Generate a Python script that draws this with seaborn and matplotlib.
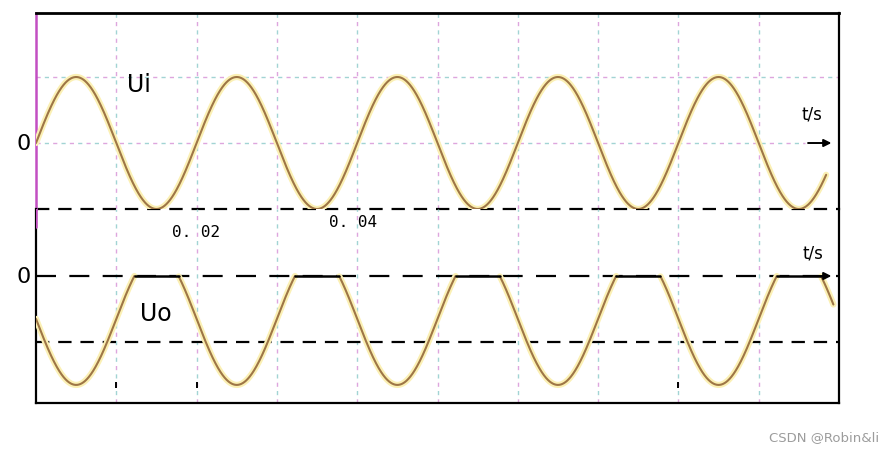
import numpy as np
import pandas as pd
import matplotlib
matplotlib.use('Agg')
import matplotlib.pyplot as plt
import matplotlib.patheffects as pe
import seaborn as sns

# waveform parameters (time in s, voltage in units of Ui amplitude)
FREQ_HZ = 50
UI_AMP = 1.0
UO_SHIFT = -0.65      # Uo = -Ui + shift, clipped at 0
UO_CLIP = 0.0
T_END_UI = 0.0984
T_END_UO = 0.0993
T_MAX = 0.1

GRID_T = [0.01, 0.02, 0.03, 0.04, 0.05, 0.06, 0.07, 0.08, 0.09]
TIME_LABELS = ['0. 02', '0. 04']
TIME_LABEL_T = [0.0199, 0.0395]
TIME_LABEL_Y = [0.68, 0.82]   # in Uo-panel units, just under the Ui baseline
BOTTOM_TICKS_T = [0.0, 0.01, 0.02, 0.08, 0.1]

WAVE = '#9e7646'
HALO = '#fbf0b4'
GRID_PINK = '#dea6de'
GRID_CYAN = '#a2d4d4'
MAGENTA = '#c24fc2'


def pastel_line(ax, horizontal, v, xmax=1.0):
    # reference grid is drawn with small two-tone dashes
    if horizontal:
        ax.axhline(v, xmax=xmax, color=GRID_PINK, lw=1.0, ls=(0, (3, 9)), zorder=1)
        ax.axhline(v, xmax=xmax, color=GRID_CYAN, lw=1.0, ls=(6, (3, 9)), zorder=1)
    else:
        ax.axvline(v, color=GRID_PINK, lw=1.0, ls=(0, (3, 9)), zorder=1)
        ax.axvline(v, color=GRID_CYAN, lw=1.0, ls=(6, (3, 9)), zorder=1)


def segments(df, col):
    return (df[col] != df[col].shift()).cumsum()


sns.set_style('white')
plt.rcParams['font.family'] = ['DejaVu Sans']
plt.rcParams['text.color'] = 'black'
plt.rcParams['axes.edgecolor'] = 'black'

t_ui = np.linspace(0, T_END_UI, 3000)
ui = UI_AMP * np.sin(2 * np.pi * FREQ_HZ * t_ui)
t_uo = np.linspace(0, T_END_UO, 3000)
uo = np.minimum(UO_CLIP, -UI_AMP * np.sin(2 * np.pi * FREQ_HZ * t_uo) + UO_SHIFT)

df_ui = pd.DataFrame({'t': t_ui, 'u': ui})
df_uo = pd.DataFrame({'t': t_uo, 'u': uo, 'flat': uo >= UO_CLIP})
df_uo['seg'] = segments(df_uo, 'flat')

fig = plt.figure(figsize=(8.95, 4.52), dpi=100)
fig.patch.set_facecolor('white')
ax1 = fig.add_axes([36 / 895, 242 / 452, 803 / 895, 196 / 452])
ax2 = fig.add_axes([36 / 895, 48 / 452, 803 / 895, 194 / 452])

halo = [pe.Stroke(linewidth=4.5, foreground=HALO), pe.Normal()]

# ---- top panel: Ui ----
ax1.set_xlim(0, T_MAX)
ax1.set_ylim(-1.0, 1.97)
for g in GRID_T:
    pastel_line(ax1, False, g)
pastel_line(ax1, True, 1.0)
pastel_line(ax1, True, 0.0, xmax=0.958)
ax1.axhline(-1.0, color='black', lw=1.6, ls=(0, (6, 4)), clip_on=False, zorder=2)
sns.lineplot(data=df_ui, x='t', y='u', ax=ax1, color=WAVE, lw=1.5,
             path_effects=halo, zorder=3)

ax1.text(0.0128, 0.89, 'Ui', fontsize=17, ha='center', va='center')
ax1.text(-0.0016, 0.0, '0', fontsize=16, ha='center', va='center')
ax1.text(0.0966, 0.44, 't/s', fontsize=12, ha='center', va='center')
ax1.annotate('', xy=(0.0994, 0.0), xytext=(0.0958, 0.0),
             arrowprops=dict(arrowstyle='-|>', color='black', lw=1.4,
                             mutation_scale=11), zorder=4)

for s in ['top', 'right', 'left']:
    ax1.spines[s].set_visible(True)
ax1.spines['bottom'].set_visible(False)
ax1.spines['top'].set_linewidth(2.0)
ax1.spines['right'].set_linewidth(1.6)
ax1.spines['left'].set_color(MAGENTA)
ax1.spines['left'].set_linewidth(1.8)

# ---- bottom panel: Uo ----
ax2.set_xlim(0, T_MAX)
ax2.set_ylim(-1.924, 1.015)
for g in GRID_T:
    pastel_line(ax2, False, g)
ax2.axhline(0.0, color='black', lw=1.6, ls=(0, (9, 6)), zorder=2)
ax2.axhline(-1.0, color='black', lw=1.6, ls=(0, (6, 4)), zorder=2)
sns.lineplot(data=df_uo[~df_uo['flat']], x='t', y='u', units='seg',
             estimator=None, ax=ax2, color=WAVE, lw=1.5,
             path_effects=halo, zorder=3)
sns.lineplot(data=df_uo[df_uo['flat']], x='t', y='u', units='seg',
             estimator=None, ax=ax2, color='black', lw=1.8, zorder=3)
ax2.plot(BOTTOM_TICKS_T, [-1.65] * len(BOTTOM_TICKS_T), ls='none',
         marker='|', ms=4, mew=1.4, color='black', clip_on=False)

for lab, tt, yy in zip(TIME_LABELS, TIME_LABEL_T, TIME_LABEL_Y):
    ax2.text(tt, yy, lab, fontsize=11.5, ha='center', va='center',
             family='DejaVu Sans Mono')
ax2.text(0.01494, -0.56, 'Uo', fontsize=17, ha='center', va='center')
ax2.text(-0.0016, 0.0, '0', fontsize=16, ha='center', va='center')
ax2.text(0.0968, 0.36, 't/s', fontsize=12, ha='center', va='center')
ax2.annotate('', xy=(0.0994, 0.0), xytext=(0.0958, 0.0),
             arrowprops=dict(arrowstyle='-|>', color='black', lw=1.4,
                             mutation_scale=11), zorder=4)
ax2.axvline(0, ymin=176 / 194, ymax=1.0, color=MAGENTA, lw=1.8, zorder=5)

for s in ['bottom', 'right', 'left']:
    ax2.spines[s].set_visible(True)
    ax2.spines[s].set_color('black')
    ax2.spines[s].set_linewidth(1.6)
ax2.spines['top'].set_visible(False)

for ax in (ax1, ax2):
    ax.set_xlabel('')
    ax.set_ylabel('')
    ax.set_xticks([])
    ax.set_yticks([])
    ax.patch.set_visible(False)

fig.text(0.982, 0.033, 'CSDN @Robin&li', ha='right', va='center',
         color='#9c9c9c', fontsize=9.5)

fig.savefig('out.png', dpi=100, facecolor='white')
